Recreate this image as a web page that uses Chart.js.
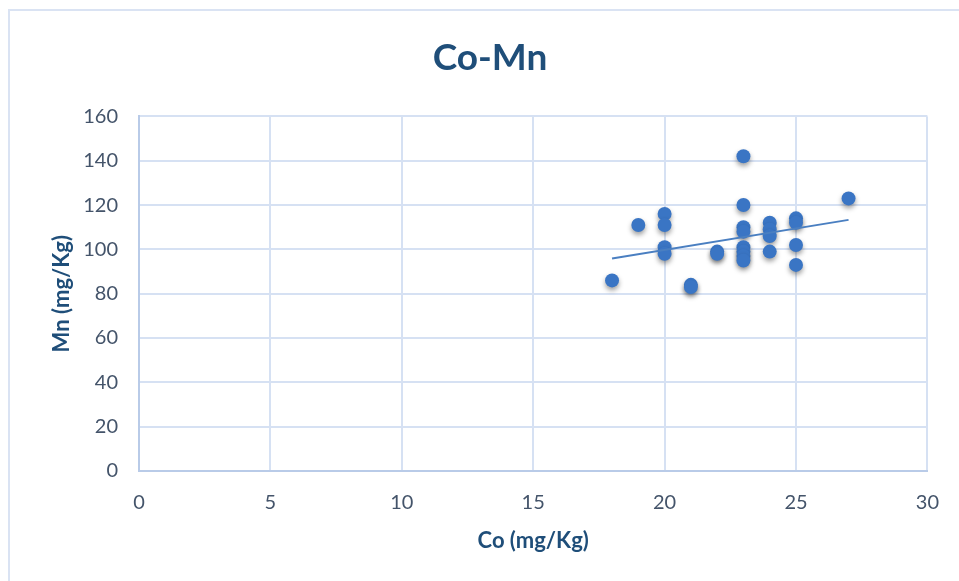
<!DOCTYPE html>
<html>
<head>
<meta charset="utf-8">
<script src="https://cdn.jsdelivr.net/npm/chart.js@4.4.1/dist/chart.umd.min.js"></script>
<style>
  html, body { margin: 0; padding: 0; background: #ffffff; }
  #wrap { position: relative; width: 959px; height: 581px; overflow: hidden; }
  #frame { position: absolute; left: 8px; top: 9px; width: 1000px; height: 600px;
           border-left: 2px solid #dae3f3; border-top: 2px solid #dae3f3; }
  canvas { position: absolute; left: 0; top: 0; }
</style>
</head>
<body>
<div id="wrap">
  <div id="frame"></div>
  <canvas id="c" width="959" height="581"></canvas>
</div>
<script>
// Co and Mn concentrations per sample (mg/Kg)
const coValues = [18, 19, 20, 20, 20, 20, 21, 21, 22, 22,
                  23, 23, 23, 23, 23, 23, 23, 23,
                  24, 24, 24, 24, 25, 25, 25, 25, 27];
const mnValues = [86, 111, 116, 111, 101, 98, 84, 83, 99, 98,
                  142, 120, 110, 108, 101, 99, 97, 95,
                  112, 109, 106, 99, 114, 112, 102, 93, 123];
const xTicks = [0, 5, 10, 15, 20, 25, 30];
const yTicks = [0, 20, 40, 60, 80, 100, 120, 140, 160];

const points = coValues.map((x, i) => ({ x: x, y: mnValues[i] }));

// least-squares linear trend across the observed Co range
const n = coValues.length;
const mx = coValues.reduce((a, b) => a + b, 0) / n;
const my = mnValues.reduce((a, b) => a + b, 0) / n;
let sxy = 0, sxx = 0;
for (let i = 0; i < n; i++) {
  sxy += (coValues[i] - mx) * (mnValues[i] - my);
  sxx += (coValues[i] - mx) * (coValues[i] - mx);
}
const slope = sxy / sxx;
const intercept = my - slope * mx;
const xMin = Math.min(...coValues), xMax = Math.max(...coValues);
const trend = [
  { x: xMin, y: intercept + slope * xMin },
  { x: xMax, y: intercept + slope * xMax }
];

// soft drop shadow under the markers
const markerShadow = {
  id: 'markerShadow',
  beforeDatasetDraw(chart, args) {
    if (args.index !== 1) return;
    const ctx = chart.ctx;
    ctx.save();
    ctx.shadowColor = 'rgba(0,0,0,0.38)';
    ctx.shadowBlur = 5;
    ctx.shadowOffsetX = 0;
    ctx.shadowOffsetY = 3;
  },
  afterDatasetDraw(chart, args) {
    if (args.index !== 1) return;
    chart.ctx.restore();
  }
};

const FONT = "Lato, 'Open Sans', sans-serif";

new Chart(document.getElementById('c'), {
  type: 'scatter',
  data: {
    datasets: [
      {
        type: 'line',
        data: trend,
        borderColor: '#4a7fc1',
        borderWidth: 2,
        pointRadius: 0,
        fill: false,
        order: 0
      },
      {
        data: points,
        backgroundColor: '#3a75c4',
        borderColor: '#3a75c4',
        borderWidth: 0,
        pointRadius: 7,
        order: 1
      }
    ]
  },
  options: {
    responsive: false,
    animation: false,
    events: [],
    layout: { padding: { left: 49, right: 28, top: 0, bottom: 0 } },
    plugins: {
      legend: { display: false },
      tooltip: { enabled: false },
      title: {
        display: true,
        text: 'Co-Mn',
        color: '#1f4e79',
        font: { family: FONT, size: 37, weight: 'bold' },
        padding: { top: 36, bottom: 36 }
      }
    },
    scales: {
      x: {
        type: 'linear',
        min: xTicks[0],
        max: xTicks[xTicks.length - 1],
        afterBuildTicks: s => { s.ticks = xTicks.map(v => ({ value: v })); },
        afterFit: s => { s.height = 110; },
        grid: { color: '#d6e1f3', lineWidth: 2, drawTicks: false },
        border: { color: '#b9cbe8', width: 2 },
        ticks: { color: '#44546a', font: { family: FONT, size: 20 }, padding: 20 },
        title: {
          display: true,
          text: 'Co (mg/Kg)',
          color: '#1f4e79',
          font: { family: FONT, size: 22, weight: 'bold' },
          padding: { top: 0, bottom: 27 }
        }
      },
      y: {
        type: 'linear',
        min: yTicks[0],
        max: yTicks[yTicks.length - 1],
        afterBuildTicks: s => { s.ticks = yTicks.map(v => ({ value: v })); },
        afterFit: s => { s.width = 90; },
        grid: { color: '#d6e1f3', lineWidth: 2, drawTicks: false },
        border: { color: '#b9cbe8', width: 2 },
        ticks: { color: '#44546a', font: { family: FONT, size: 20 }, padding: 21 },
        title: {
          display: true,
          text: 'Mn (mg/Kg)',
          color: '#1f4e79',
          font: { family: FONT, size: 22, weight: 'bold' },
          padding: 0
        }
      }
    }
  },
  plugins: [markerShadow]
});
</script>
</body>
</html>
